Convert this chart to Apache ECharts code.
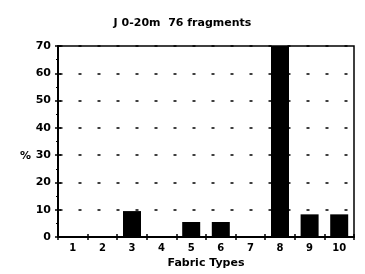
<!DOCTYPE html>
<html>
<head>
<meta charset="utf-8">
<title>Fabric Types</title>
<script src="https://cdn.jsdelivr.net/npm/echarts@6/dist/echarts.min.js"></script>
<style>
  html, body { margin: 0; padding: 0; background: #fff; }
  #main { width: 365px; height: 274px; }
</style>
</head>
<body>
<div id="main"></div>
<script type="text/javascript">
    // fabric type categories
    var fabricTypes = ['1', '2', '3', '4', '5', '6', '7', '8', '9', '10']
    // percent of fragments per type
    var percents = [0, 0, 9.5, 0, 5.5, 5.5, 0, 70, 8.3, 8.3]
    var titleText = 'J 0-20m  76 fragments'
    var xName = 'Fabric Types'
    var yName = '%'

    var font = 'DejaVu Sans'
    var myChart = echarts.init(document.getElementById('main'))

    var option = {
        animation: false,
        title: {
            text: titleText,
            left: 'center',
            top: 13,
            textStyle: { fontFamily: font, fontSize: 11, fontWeight: 'bold', color: '#000' }
        },
        grid: {
            left: 58, right: 11, top: 46, bottom: 36,
            show: true, borderColor: '#000', borderWidth: 1.5
        },
        graphic: [{
            type: 'text', left: 20, top: 151,
            style: { text: yName, fontFamily: font, fontSize: 11, fontWeight: 'bold', fill: '#000' }
        }],
        xAxis: [{
            type: 'category',
            data: fabricTypes,
            name: xName,
            nameLocation: 'middle',
            nameGap: 21,
            nameTextStyle: { fontFamily: font, fontSize: 11, fontWeight: 'bold', color: '#000' },
            axisLine: { lineStyle: { color: '#000', width: 2 } },
            axisTick: { show: true, length: 3, lineStyle: { color: '#000', width: 1.5 } },
            axisLabel: { fontFamily: font, fontSize: 10, fontWeight: 'bold', color: '#000', margin: 6 }
        }, {
            // inside half of the cross ticks
            type: 'category',
            data: fabricTypes,
            position: 'bottom',
            axisLine: { show: false },
            axisTick: { show: true, inside: true, length: 3, lineStyle: { color: '#000', width: 1.5 } },
            axisLabel: { show: false }
        }],
        yAxis: [{
            type: 'value',
            min: 0,
            max: 70,
            interval: 10,
            axisLine: { show: true, lineStyle: { color: '#000', width: 2 } },
            axisTick: { show: true, length: 3, lineStyle: { color: '#000', width: 1.5 } },
            minorTick: { show: true, splitNumber: 2, length: 2, lineStyle: { color: '#000', width: 1 } },
            axisLabel: { fontFamily: font, fontSize: 11, fontWeight: 'bold', color: '#000', margin: 7 },
            splitLine: { show: true, lineStyle: { color: '#000', width: 1.5, type: [3, 16], dashOffset: -1.5 } }
        }, {
            type: 'value',
            min: 0,
            max: 70,
            interval: 10,
            position: 'left',
            axisLine: { show: false },
            axisTick: { show: true, inside: true, length: 3, lineStyle: { color: '#000', width: 1.5 } },
            axisLabel: { show: false },
            splitLine: { show: false }
        }],
        series: [{
            type: 'bar',
            data: percents,
            barWidth: 18,
            itemStyle: { color: '#000' }
        }]
    }

    myChart.setOption(option)
</script>
</body>
</html>
